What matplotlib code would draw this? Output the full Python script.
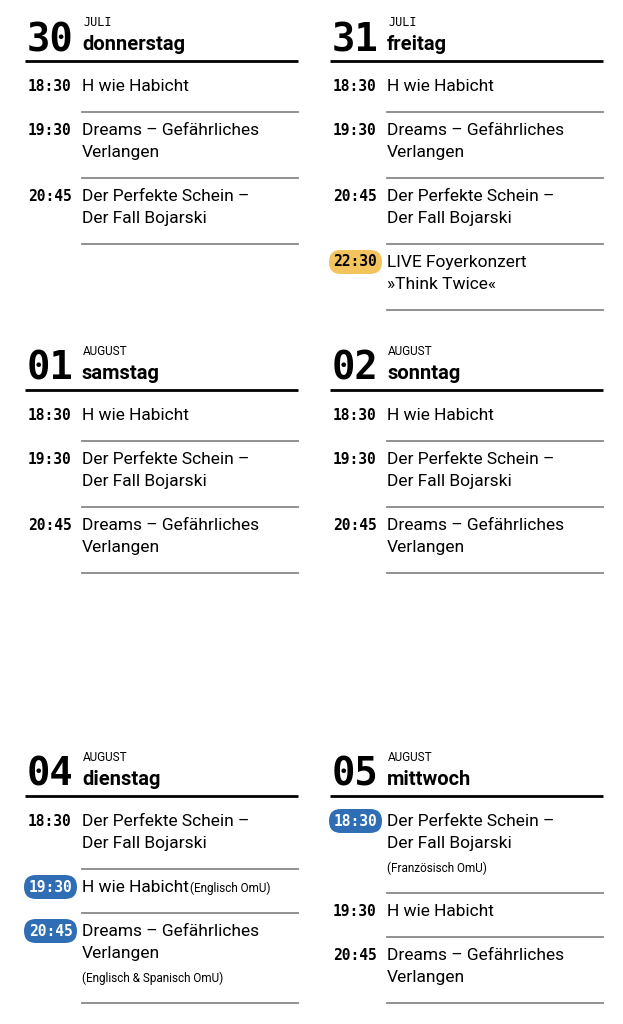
import matplotlib
matplotlib.use("Agg")
import matplotlib.pyplot as plt
from matplotlib.patches import FancyBboxPatch

days = ["30", "31", "01", "02", "04", "05"]
months = ["JULI", "JULI", "AUGUST", "AUGUST", "AUGUST", "AUGUST"]
weekdays = ["donnerstag", "freitag", "samstag", "sonntag", "dienstag", "mittwoch"]
times = [["18:30", "19:30", "20:45"],
         ["18:30", "19:30", "20:45", "22:30"],
         ["18:30", "19:30", "20:45"],
         ["18:30", "19:30", "20:45"],
         ["18:30", "19:30", "20:45"],
         ["18:30", "19:30", "20:45"]]
titles = [["H wie Habicht", "Dreams – Gefährliches\nVerlangen", "Der Perfekte Schein –\nDer Fall Bojarski"],
          ["H wie Habicht", "Dreams – Gefährliches\nVerlangen", "Der Perfekte Schein –\nDer Fall Bojarski", "LIVE Foyerkonzert\n»Think Twice«"],
          ["H wie Habicht", "Der Perfekte Schein –\nDer Fall Bojarski", "Dreams – Gefährliches\nVerlangen"],
          ["H wie Habicht", "Der Perfekte Schein –\nDer Fall Bojarski", "Dreams – Gefährliches\nVerlangen"],
          ["Der Perfekte Schein –\nDer Fall Bojarski", "H wie Habicht", "Dreams – Gefährliches\nVerlangen"],
          ["Der Perfekte Schein –\nDer Fall Bojarski", "H wie Habicht", "Dreams – Gefährliches\nVerlangen"]]
notes = [["", "", ""], ["", "", "", ""], ["", "", ""], ["", "", ""],
         ["", "(Englisch OmU)", "(Englisch & Spanisch OmU)"],
         ["(Französisch OmU)", "", ""]]
badges = [[None]*3, [None, None, None, "#F3C35E"], [None]*3, [None]*3,
          [None, "#2F6DB5", "#2F6DB5"], ["#2F6DB5", None, None]]

fig = plt.figure(figsize=(6.23, 10.24), dpi=100)
ax = fig.add_axes([0, 0, 1, 1])
ax.set_xlim(0, 623); ax.set_ylim(1024, 0); ax.axis("off")

SANS = ["Roboto", "DejaVu Sans"]
MONO = "DejaVu Sans Mono"
col_x = [28, 333]
header_y = [61, 390, 796]

for i, d in enumerate(days):
    c = i % 2; r = i // 2
    x0 = col_x[c]; hy = header_y[r]
    tx = x0 + 54
    ax.text(x0 - 1, hy - 10, d, family=MONO, weight="bold", fontsize=28, va="baseline", ha="left")
    ax.text(tx + 1, hy - 35, months[i], family=MONO if months[i] == "JULI" else SANS,
            fontsize=8.5, va="baseline", ha="left")
    ax.text(tx, hy - 11, weekdays[i], family=SANS, weight="bold", fontsize=14.5, va="baseline", ha="left")
    ax.plot([x0 - 3, x0 + 270], [hy, hy], color="black", lw=2, solid_capstyle="butt")
    y = hy + 30
    for t, ti, n, b in zip(times[i], titles[i], notes[i], badges[i]):
        lines = ti.split("\n")
        if b:
            ax.add_patch(FancyBboxPatch((x0 - 4, y - 17), 53, 24,
                                        boxstyle="round,pad=0,rounding_size=12",
                                        fc=b, ec="none"))
        ax.text(x0 + 22.5 if b else x0, y - 5 if b else y,
                t, family=MONO, weight="bold", fontsize=10.5,
                color="white" if (b and b != "#F3C35E") else "black",
                ha="center" if b else "left", va="center" if b else "baseline")
        for k, ln in enumerate(lines):
            ax.text(tx, y + 22 * k, ln, family=SANS, fontsize=12.5, va="baseline", ha="left")
        ybot = y + 22 * (len(lines) - 1)
        if n:
            if len(lines) == 1:
                ax.text(tx + 108, y, n, family=SANS, fontsize=8.5, va="baseline")
            else:
                ybot += 24
                ax.text(tx, ybot, n, family=SANS, fontsize=8.5, va="baseline")
        ly = ybot + 21
        ax.plot([tx, x0 + 270], [ly, ly], color="#888888", lw=1.3)
        y = ly + 23

fig.savefig("out.png", dpi=100)
